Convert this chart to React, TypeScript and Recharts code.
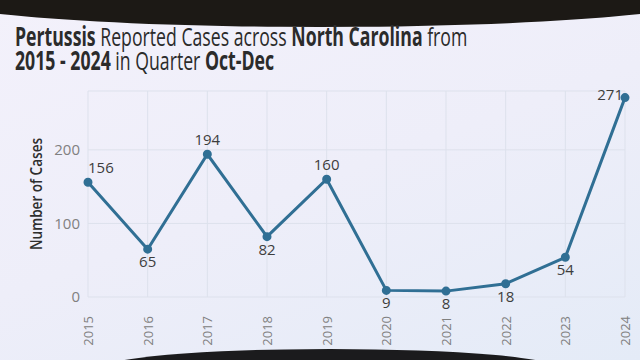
import React from 'react';
import { LineChart, Line, XAxis, YAxis, CartesianGrid, LabelList, Label } from 'recharts';

const years = ['2015', '2016', '2017', '2018', '2019', '2020', '2021', '2022', '2023', '2024'];
const cases = [156, 65, 194, 82, 160, 9, 8, 18, 54, 271];
const yTicks = [0, 100, 200];

const data = years.map((year, i) => ({ year, cases: cases[i] }));

const LINE_COLOR = '#306f94';
const FONT = "'Open Sans', Roboto, sans-serif";

const CaseLabel = (props: any) => {
  const { x, y, value, index } = props;
  const prev = cases[index - 1];
  const next = cases[index + 1];
  const isPeak = (prev === undefined || value >= prev) && (next === undefined || value >= next);
  const last = index === cases.length - 1;
  let anchor = 'middle';
  let dx = 0;
  let dy = isPeak ? -9 : 18;
  if (index === 0) anchor = 'start';
  if (last) {
    anchor = 'end';
    dx = -2;
    dy = 2;
  }
  return (
    <text x={x + dx} y={y + dy} textAnchor={anchor} fill="#3d3d3d" fontSize={15} fontFamily={FONT}>
      {value}
    </text>
  );
};

const YearTick = (props: any) => {
  const { x, y, payload } = props;
  return (
    <text
      x={0}
      y={0}
      transform={`translate(${x + 5},${y + 11}) rotate(-90)`}
      textAnchor="end"
      fill="#808080"
      fontSize={13}
      fontFamily={FONT}
    >
      {payload.value}
    </text>
  );
};

const AxisTitle = (props: any) => {
  const { viewBox } = props;
  const cx = viewBox.x + 37;
  const cy = viewBox.y + viewBox.height / 2;
  return (
    <text
      x={0}
      y={0}
      transform={`translate(${cx + 5},${cy}) rotate(-90) scale(0.85,1)`}
      textAnchor="middle"
      fill="#2e2e2e"
      fontSize={16}
      fontWeight={600}
      fontFamily={FONT}
    >
      Number of Cases
    </text>
  );
};

export default function App() {
  return (
    <div
      style={{
        position: 'fixed',
        left: 0,
        top: 0,
        width: 640,
        height: 360,
        overflow: 'hidden',
        background: 'linear-gradient(160deg, #f3f1fb 0%, #eeeef9 50%, #e4ebf7 100%)',
      }}
    >
      <div
        style={{
          position: 'absolute',
          left: -80,
          top: -38,
          width: 800,
          height: 65,
          borderRadius: '50%',
          background: '#1c1915',
        }}
      />
      <div
        style={{
          position: 'absolute',
          left: 100,
          top: 349,
          width: 460,
          height: 40,
          borderRadius: '50%',
          background: '#1b1b1d',
        }}
      />
      <div
        style={{
          position: 'absolute',
          left: 15,
          top: 24,
          fontFamily: FONT,
          fontSize: 26,
          lineHeight: '24px',
          color: '#2b2b2b',
          whiteSpace: 'nowrap',
          transform: 'scale(0.68,1)',
          transformOrigin: 'left top',
        }}
      >
        <div>
          <b>Pertussis</b> Reported Cases across <b>North Carolina</b> from
        </div>
        <div>
          <b>2015 - 2024</b> in Quarter <b>Oct-Dec</b>
        </div>
      </div>
      <div style={{ position: 'absolute', left: 0, top: 0 }}>
        <LineChart width={640} height={360} data={data} margin={{ top: 91, right: 15, bottom: 0, left: 0 }}>
          <CartesianGrid stroke="#dde1ec" strokeWidth={1} />
          <XAxis
            dataKey="year"
            height={63}
            tick={<YearTick />}
            tickLine={false}
            axisLine={false}
            interval={0}
          />
          <YAxis
            width={88}
            domain={[0, 280]}
            ticks={yTicks}
            tickLine={false}
            axisLine={false}
            tickSize={0}
            tickMargin={8}
            tick={{ fill: '#808080', fontSize: 15, fontFamily: FONT }}
          >
            <Label content={<AxisTitle />} />
          </YAxis>
          <Line
            type="linear"
            dataKey="cases"
            stroke={LINE_COLOR}
            strokeWidth={3}
            dot={{ r: 3, fill: LINE_COLOR, stroke: LINE_COLOR }}
            isAnimationActive={false}
          >
            <LabelList dataKey="cases" content={<CaseLabel />} />
          </Line>
        </LineChart>
      </div>
    </div>
  );
}
